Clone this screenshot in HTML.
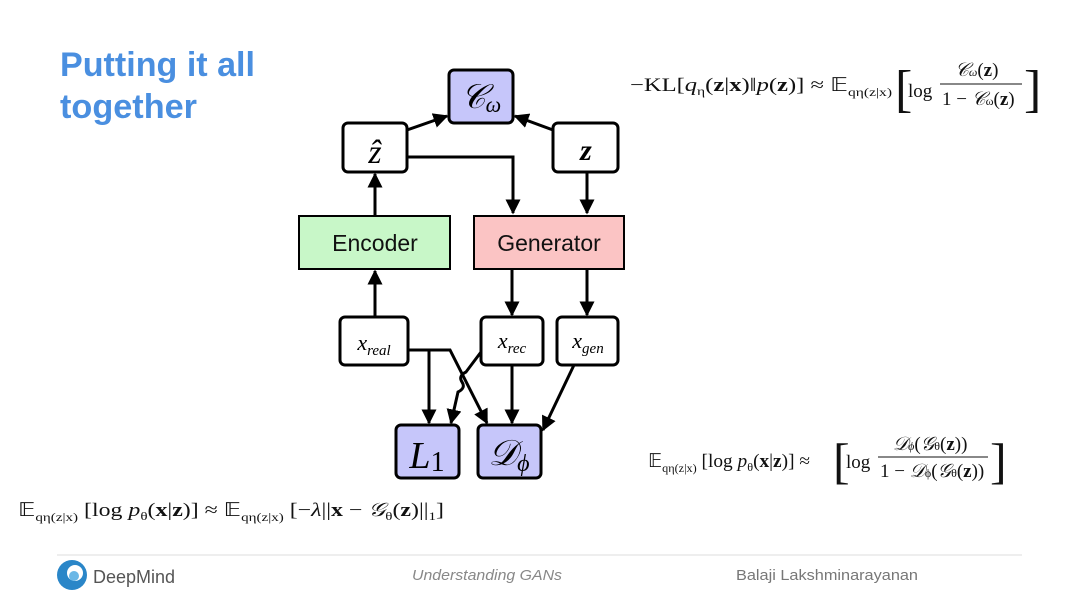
<!DOCTYPE html>
<html><head><meta charset="utf-8"><style>
body{margin:0;width:1080px;height:608px;background:#fff;overflow:hidden}
svg{display:block}
.m{font-family:"Liberation Serif",serif}
</style></head><body>
<svg width="1080" height="608" viewBox="0 0 1080 608" xmlns="http://www.w3.org/2000/svg">
<defs><marker id="a" viewBox="0 0 10 10" refX="9" refY="5" markerWidth="5" markerHeight="5" orient="auto"><path d="M0,0L10,5L0,10z" fill="#000"/></marker></defs>
<text x="60" y="76" font-family="Liberation Sans,sans-serif" font-weight="bold" font-size="34" fill="#4a8fe0" textLength="195" lengthAdjust="spacingAndGlyphs">Putting it all</text>
<text x="60" y="118" font-family="Liberation Sans,sans-serif" font-weight="bold" font-size="34" fill="#4a8fe0" textLength="137" lengthAdjust="spacingAndGlyphs">together</text>
<g stroke="#000" stroke-width="3">
<rect x="449" y="70" width="64" height="53" rx="5" fill="#c6c6fa"/>
<rect x="343" y="123" width="64" height="49" rx="5" fill="#fff"/>
<rect x="553" y="123" width="65" height="49" rx="5" fill="#fff"/>
<rect x="299" y="216" width="151" height="53" fill="#c8f7c8" stroke-width="2"/>
<rect x="474" y="216" width="150" height="53" fill="#fbc4c4" stroke-width="2"/>
<rect x="340" y="317" width="68" height="48" rx="5" fill="#fff"/>
<rect x="481" y="317" width="62" height="48" rx="5" fill="#fff"/>
<rect x="557" y="317" width="61" height="48" rx="5" fill="#fff"/>
<rect x="396" y="425" width="63" height="53" rx="5" fill="#c6c6fa"/>
<rect x="478" y="425" width="63" height="53" rx="5" fill="#c6c6fa"/>
</g>
<g stroke="#000" stroke-width="3" fill="none" marker-end="url(#a)">
<line x1="407" y1="130" x2="447" y2="116"/>
<line x1="553" y1="130" x2="515" y2="116"/>
<polyline points="407,157 513,157 513,213"/>
<line x1="587" y1="172" x2="587" y2="213"/>
<line x1="375" y1="216" x2="375" y2="174"/>
<line x1="375" y1="317" x2="375" y2="271"/>
<line x1="512" y1="269" x2="512" y2="315"/>
<line x1="587" y1="269" x2="587" y2="315"/>
<line x1="429" y1="350" x2="429" y2="423"/>
<polyline points="408,350 450,350 487,423"/>
<path d="M481,352 L466,372 q-8,4 -4,10 q4,6 -4,10 L451,423"/>
<line x1="512" y1="365" x2="512" y2="423"/>
<line x1="574" y1="365" x2="543" y2="430"/>
</g>
<g class="m" font-style="italic" text-anchor="middle">
<text x="481" y="108" font-size="34">𝒞<tspan font-size="22" dy="4">ω</tspan></text>
<text x="375" y="163" font-size="34">ẑ</text>
<text x="586" y="160" font-size="30" font-weight="bold">z</text>
<text x="374" y="350" font-size="22">x<tspan font-size="15" dy="5">real</tspan></text>
<text x="512" y="348" font-size="22">x<tspan font-size="15" dy="5">rec</tspan></text>
<text x="588" y="348" font-size="22">x<tspan font-size="15" dy="5">gen</tspan></text>
<text x="427" y="468" font-size="38">L<tspan font-style="normal" font-size="28" dy="3">1</tspan></text>
<text x="509" y="465" font-size="36">𝒟<tspan font-size="24" dy="6">ϕ</tspan></text>
</g>
<g font-family="Liberation Sans,sans-serif" font-size="23" text-anchor="middle" fill="#111">
<text x="375" y="251">Encoder</text>
<text x="549" y="251">Generator</text>
</g>
<g class="m" font-size="19" fill="#111">
<text x="630" y="91" textLength="262" lengthAdjust="spacingAndGlyphs">−KL[<tspan font-style="italic">q</tspan><tspan font-size="12" dy="4">η</tspan><tspan dy="-4">(<tspan font-weight="bold">z</tspan>|<tspan font-weight="bold">x</tspan>)‖<tspan font-style="italic">p</tspan>(<tspan font-weight="bold">z</tspan>)] ≈ 𝔼</tspan><tspan font-size="12" dy="5">qη(z|x)</tspan></text>
<text x="895" y="106" font-size="52" font-weight="lighter">[</text>
<text x="908" y="97">log</text>
<line x1="940" y1="84" x2="1022" y2="84" stroke="#111" stroke-width="1"/>
<text x="955" y="76" font-style="italic">𝒞<tspan font-size="12">ω</tspan><tspan font-style="normal">(<tspan font-weight="bold">z</tspan>)</tspan></text>
<text x="942" y="105">1 − <tspan font-style="italic">𝒞</tspan><tspan font-size="12">ω</tspan>(<tspan font-weight="bold">z</tspan>)</text>
<text x="1024" y="106" font-size="52">]</text>

<text x="648" y="467" textLength="162" lengthAdjust="spacingAndGlyphs">𝔼<tspan font-size="12" dy="5">qη(z|x)</tspan><tspan dy="-5"> [log <tspan font-style="italic">p</tspan><tspan font-size="12" dy="4">θ</tspan><tspan dy="-4">(<tspan font-weight="bold">x</tspan>|<tspan font-weight="bold">z</tspan>)] ≈</tspan></tspan></text>
<text x="833" y="478" font-size="50">[</text>
<text x="846" y="468">log</text>
<line x1="878" y1="457" x2="988" y2="457" stroke="#111" stroke-width="1"/>
<text x="893" y="450" font-style="italic">𝒟<tspan font-size="12">ϕ</tspan><tspan font-style="normal">(<tspan font-style="italic">𝒢</tspan><tspan font-size="12">θ</tspan>(<tspan font-weight="bold">z</tspan>))</tspan></text>
<text x="880" y="477">1 − <tspan font-style="italic">𝒟</tspan><tspan font-size="12">ϕ</tspan>(<tspan font-style="italic">𝒢</tspan><tspan font-size="12">θ</tspan>(<tspan font-weight="bold">z</tspan>))</text>
<text x="990" y="478" font-size="50">]</text>

<text x="18" y="516" textLength="426" lengthAdjust="spacingAndGlyphs">𝔼<tspan font-size="12" dy="5">qη(z|x)</tspan><tspan dy="-5"> [log <tspan font-style="italic">p</tspan><tspan font-size="12" dy="4">θ</tspan><tspan dy="-4">(<tspan font-weight="bold">x</tspan>|<tspan font-weight="bold">z</tspan>)] ≈ 𝔼</tspan></tspan><tspan font-size="12" dy="5">qη(z|x)</tspan><tspan dy="-5"> [−<tspan font-style="italic">λ</tspan>||<tspan font-weight="bold">x</tspan> − <tspan font-style="italic">𝒢</tspan><tspan font-size="12" dy="4">θ</tspan><tspan dy="-4">(<tspan font-weight="bold">z</tspan>)||</tspan><tspan font-size="12" dy="4">1</tspan><tspan dy="-4">]</tspan></tspan></text>
</g>
<line x1="57" y1="555" x2="1022" y2="555" stroke="#ddd" stroke-width="1"/>
<circle cx="72" cy="575" r="15" fill="#2a86c8"/>
<circle cx="75" cy="573" r="8" fill="#fff"/>
<circle cx="74" cy="576" r="5" fill="#6ab7e6"/>
<text x="93" y="583" font-family="Liberation Sans,sans-serif" font-size="18" fill="#555">DeepMind</text>
<text x="412" y="580" font-family="Liberation Sans,sans-serif" font-style="italic" font-size="15" fill="#888" textLength="150" lengthAdjust="spacingAndGlyphs">Understanding GANs</text>
<text x="736" y="580" font-family="Liberation Sans,sans-serif" font-size="15" fill="#777" textLength="182" lengthAdjust="spacingAndGlyphs">Balaji Lakshminarayanan</text>
</svg>
</body></html>
